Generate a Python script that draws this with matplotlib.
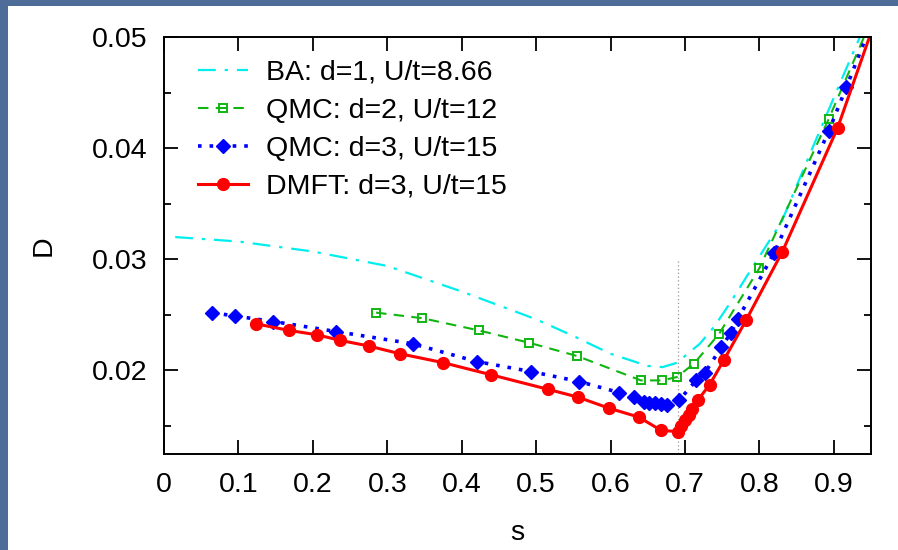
import matplotlib
matplotlib.use("Agg")
from matplotlib import pyplot as plt
from matplotlib.patches import Rectangle
from matplotlib.ticker import MultipleLocator

plt.rcParams['font.family'] = ['Liberation Sans', 'DejaVu Sans']

# BA: d=1, U/t=8.66 (smooth curve)
ba_s = [0.015, 0.1, 0.2, 0.3, 0.4, 0.5, 0.55, 0.6, 0.65, 0.67, 0.69, 0.70, 0.72,
        0.74, 0.76, 0.79, 0.83, 0.87, 0.91, 0.935]
ba_d = [0.0320, 0.0316, 0.0307, 0.0294, 0.0271, 0.0246, 0.0231, 0.0215, 0.0204, 0.0203,
        0.0207, 0.0213, 0.0224, 0.0240, 0.0260, 0.0292, 0.0334, 0.0398, 0.0461, 0.0500]

# QMC: d=2, U/t=12
qmc2_s = [0.285, 0.347, 0.423, 0.490, 0.555, 0.641, 0.669, 0.689, 0.712, 0.746, 0.800, 0.893, 0.96]
qmc2_d = [0.0252, 0.0247, 0.0236, 0.0225, 0.0213, 0.0191, 0.0191, 0.0194, 0.0206, 0.0233,
          0.0292, 0.0426, 0.0530]

# QMC: d=3, U/t=15
qmc3_s = [0.065, 0.095, 0.147, 0.231, 0.334, 0.420, 0.493, 0.558, 0.612, 0.632, 0.645,
          0.652, 0.660, 0.668, 0.676, 0.692, 0.715, 0.727, 0.749, 0.762, 0.771, 0.820,
          0.893, 0.917, 0.96]
qmc3_d = [0.0252, 0.0249, 0.0244, 0.0235, 0.0224, 0.0208, 0.0199, 0.0190, 0.0180, 0.0176,
          0.0172, 0.0171, 0.0171, 0.0170, 0.0169, 0.0173, 0.0191, 0.0198, 0.0221, 0.0234,
          0.0246, 0.0306, 0.0415, 0.0455, 0.0528]

# DMFT: d=3, U/t=15
dmft_s = [0.123, 0.168, 0.206, 0.237, 0.275, 0.317, 0.375, 0.440, 0.516, 0.556, 0.598,
          0.638, 0.668, 0.690, 0.695, 0.700, 0.705, 0.710, 0.717, 0.733, 0.752, 0.782,
          0.831, 0.905, 0.96]
dmft_d = [0.0242, 0.0236, 0.0232, 0.0227, 0.0222, 0.0215, 0.0207, 0.0196, 0.0183, 0.0176,
          0.0166, 0.0158, 0.0146, 0.0145, 0.0150, 0.0155, 0.0160, 0.0165, 0.0173, 0.0187,
          0.0209, 0.0245, 0.0307, 0.0418, 0.0523]

s_crit = 0.69
d_crit_top = 0.030

FS = 20.5
W, H = 898, 550
fig = plt.figure(figsize=(W / 100, H / 100), dpi=100, facecolor='#4d6d98')
fig.patches.append(Rectangle((8 / W, 0), 1 - 8 / W, 1 - 6 / H, transform=fig.transFigure,
                             facecolor='white', edgecolor='none', zorder=-10))

ax = fig.add_axes([164 / W, 1 - 454 / H, (871 - 164) / W, (454 - 37) / H])

ax.plot(ba_s, ba_d, color='#00eeee', lw=1.6, linestyle=(0, (8, 4, 1.5, 4)),
        label='BA: d=1, U/t=8.66')
ax.plot(qmc2_s, qmc2_d, color='#11b511', lw=1.5, linestyle=(0, (5, 3.5)),
        marker='s', ms=6, mfc='none', mec='#11b511', mew=1.4,
        label='QMC: d=2, U/t=12')
ax.plot(qmc3_s, qmc3_d, color='#0000ff', lw=2.6, linestyle=(0, (1, 2.2)),
        marker='D', ms=7, mfc='#0000ff', mec='#0000ff',
        label='QMC: d=3, U/t=15')
ax.plot(dmft_s, dmft_d, color='#ff0000', lw=2.2, linestyle='-',
        marker='o', ms=8.5, mfc='#ff0000', mec='#ff0000',
        label='DMFT: d=3, U/t=15')

ax.plot([s_crit, s_crit], [0.0, d_crit_top], color='#999999', lw=0.9,
        linestyle=(0, (1, 2)), zorder=1)

ax.set_xlim(0, 0.95)
ax.set_ylim(0.01248, 0.05)
ax.xaxis.set_major_locator(MultipleLocator(0.1))
ax.yaxis.set_major_locator(MultipleLocator(0.01))
ax.yaxis.set_minor_locator(MultipleLocator(0.005))
ax.xaxis.set_major_formatter(plt.FuncFormatter(lambda v, p: '0' if abs(v) < 1e-9 else f'{v:.1f}'))
ax.yaxis.set_major_formatter(plt.FuncFormatter(lambda v, p: f'{v:.2f}'))

ax.tick_params(axis='both', which='both', direction='in', top=True, right=True,
               labelsize=FS, colors='black', width=1.3)
ax.tick_params(axis='both', which='major', length=10)
ax.tick_params(axis='both', which='minor', length=5)
ax.tick_params(axis='x', pad=13)
ax.tick_params(axis='y', pad=12)
for sp in ax.spines.values():
    sp.set_linewidth(1.4)

ax.set_xlabel('s', fontsize=FS, labelpad=16)
ax.set_ylabel('D', fontsize=FS, labelpad=25)

ax.legend(loc='upper left', frameon=False, fontsize=FS, handlelength=1.75,
          handletextpad=0.65, labelspacing=0.42, borderaxespad=0, borderpad=0,
          bbox_to_anchor=(0.048, 0.945))

fig.savefig('out.png', dpi=100, facecolor=fig.get_facecolor())
